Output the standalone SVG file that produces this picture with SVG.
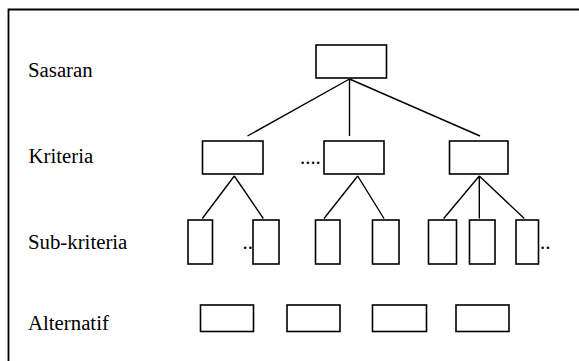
<svg xmlns="http://www.w3.org/2000/svg" width="579" height="361" viewBox="0 0 579 361">
<style>
.lbl{font-family:"Liberation Serif","Times New Roman",serif;font-size:20.8px;fill:#000}
.box{fill:#fff;stroke:#000;stroke-width:1.6}
.ln{stroke:#000;stroke-width:1.4;fill:none}
.frame{stroke:#000;stroke-width:1.8;fill:none}
</style>
<rect width="579" height="361" fill="#fff"/>
<path class="frame" d="M8.5,361 V9.5 H579"/>
<g id="labels">
<text class="lbl" x="28" y="77">Sasaran</text>
<text class="lbl" x="28.5" y="163">Kriteria</text>
<text class="lbl" x="28" y="248.5">Sub-kriteria</text>
<text class="lbl" x="28" y="330">Alternatif</text>
</g>
<g id="connectors">
<path class="ln" d="M349.5,79 L247.5,136 M349.5,79 V136 M349.5,79 L480,136"/>
<path class="ln" d="M234.3,176 L202.3,218.5 M234.3,176 L263.3,218.5"/>
<path class="ln" d="M357.7,176 L324,218.5 M357.7,176 L384,218.5"/>
<path class="ln" d="M479.3,176 L443.7,218.5 M479.3,176 V218.5 M479.3,176 L524.3,218.5"/>
</g>
<g id="sasaran"><rect class="box" x="316" y="45" width="70.5" height="33"/></g>
<g id="kriteria1"><rect class="box" x="202.5" y="141" width="60.5" height="33"/></g>
<g id="kriteria2"><rect class="box" x="324" y="141" width="60" height="33"/></g>
<g id="kriteria3"><rect class="box" x="449.5" y="141" width="58.5" height="33"/></g>
<g id="dots-kriteria"><text class="lbl" x="300" y="164">....</text></g>
<g id="sub1"><rect class="box" x="188" y="220" width="24.5" height="44"/></g>
<g id="sub2"><rect class="box" x="253" y="220" width="26" height="44"/></g>
<g id="sub3"><rect class="box" x="315.5" y="220" width="24.5" height="44"/></g>
<g id="sub4"><rect class="box" x="372.5" y="220" width="26.5" height="44"/></g>
<g id="sub5"><rect class="box" x="428.5" y="220" width="28" height="44"/></g>
<g id="sub6"><rect class="box" x="469.5" y="220" width="25.5" height="44"/></g>
<g id="sub7"><rect class="box" x="516" y="220" width="22.5" height="44"/></g>
<g id="dots-sub"><text class="lbl" x="242.5" y="249">..</text><text class="lbl" x="540" y="249">..</text></g>
<g id="alt1"><rect class="box" x="200.5" y="305" width="53" height="26.5"/></g>
<g id="alt2"><rect class="box" x="287" y="305" width="53" height="26.5"/></g>
<g id="alt3"><rect class="box" x="372.5" y="305" width="54" height="26.5"/></g>
<g id="alt4"><rect class="box" x="456" y="305" width="53" height="26.5"/></g>
</svg>
